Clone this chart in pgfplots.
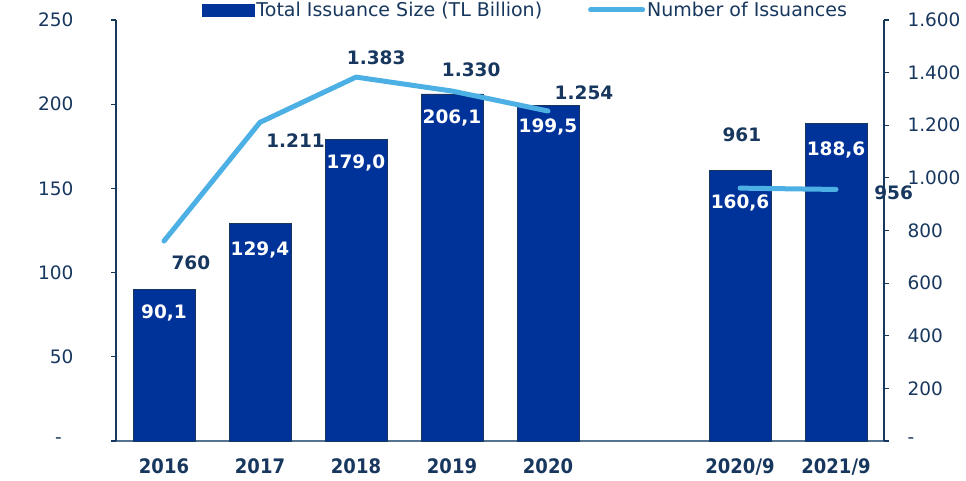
\documentclass[border=0pt]{standalone}
\usepackage{pgfplots}
\pgfplotsset{compat=1.18}
\usepackage{fontspec}
\setmainfont{DejaVu Sans}
\newfontfamily\condfont{DejaVu Sans Condensed}
\definecolor{barblue}{RGB}{0,51,153}
\definecolor{lineblue}{RGB}{77,176,228}
\definecolor{navy}{RGB}{23,55,94}
\definecolor{basecol}{RGB}{85,115,145}
\pgfplotstableread{
x y s
0 90.1 -24
1 129.4 -27
2 179.0 -23
3 206.1 -24
4 199.5 -22
6 160.6 -32
7 188.6 -27
}\bardata
\begin{document}
\begin{tikzpicture}[font=\fontsize{18.5bp}{22bp}\selectfont]
\begin{axis}[name=ax, scale only axis, width=768bp, height=421bp,
  xmin=-0.5, xmax=7.5, ymin=0, ymax=250,
  axis x line*=bottom, axis y line*=left,
  axis line style={-, navy, line width=1.2bp},
  x axis line style={basecol, line width=1.8bp},
  xtick={0,1,2,3,4,6,7},
  xticklabels={2016,2017,2018,2019,2020,2020/9,2021/9},
  xtick style={draw=none},
  xticklabel style={font=\fontsize{20bp}{24bp}\selectfont\condfont\bfseries, text=navy, yshift=-9bp},
  ytick={0,50,100,150,200,250},
  yticklabels={{-\hphantom{0}\hspace{3bp}},50,100,150,200,250},
  ytick style={navy, line width=1.2bp},
  tick align=outside, major tick length=5bp,
  yticklabel style={text=navy, anchor=east, xshift=-34bp},
  legend style={at={(0.533,1)}, anchor=center, yshift=10bp, draw=none, fill=none,
    legend columns=2, text=navy, font=\fontsize{19bp}{22bp}\selectfont,
    /tikz/every even column/.append style={column sep=44bp},
    legend cell align=left, inner sep=0pt},
  ybar, bar width=62bp,
  nodes near coords,
  visualization depends on={\thisrow{s} \as \myshift},
  every node near coord/.append style={font=\fontsize{18.5bp}{22bp}\selectfont\bfseries, text=white, anchor=center, yshift=\myshift bp,
    /pgf/number format/.cd, use comma, fixed, fixed zerofill, precision=1, assume math mode=true},
]
\addplot[fill=barblue, draw=navy, line width=0.8bp,
  legend image code/.code={\fill[barblue] (0bp,-6bp) rectangle (52bp,6bp);}]
  table[x=x, y=y, meta=y] {\bardata};
\addlegendentry{Total Issuance Size (TL Billion)}
\addlegendimage{legend image code/.code={\draw[lineblue, line width=5bp, line cap=round] (0bp,0bp) -- (52bp,0bp);}}
\addlegendentry{Number of Issuances}
\node[rotate=90, text=navy, font=\fontsize{17bp}{20bp}\selectfont] at ([xshift=-102bp]rel axis cs:0,0.893) {TL Billion};
\end{axis}
\begin{axis}[scale only axis, width=768bp, height=421bp,
  xmin=-0.5, xmax=7.5, ymin=0, ymax=1600, clip=false,
  axis y line*=right, hide x axis,
  axis line style={-, navy, line width=1.2bp},
  ytick={0,200,400,600,800,1000,1200,1400,1600},
  yticklabels={-,200,400,600,800,1.000,1.200,1.400,1.600},
  ytick style={navy, line width=1.2bp},
  tick align=outside, major tick length=5bp,
  yticklabel style={text=navy, anchor=west, xshift=15bp},
]
\addplot[lineblue, line width=5bp, line cap=round, line join=round]
  coordinates {(0,760) (1,1211) (2,1383) (3,1330) (4,1254)};
\addplot[lineblue, line width=5bp, line cap=round]
  coordinates {(6,961) (7,956)};
\begin{scope}[every node/.style={font=\fontsize{18.5bp}{22bp}\selectfont\bfseries, text=navy}]
\node at (axis cs:0.28,676) {760};
\node at (axis cs:1.37,1140) {1.211};
\node at (axis cs:2.21,1456) {1.383};
\node at (axis cs:3.20,1410) {1.330};
\node at (axis cs:4.375,1323) {1.254};
\node at (axis cs:6.02,1163) {961};
\node at (axis cs:7.60,943) {956};
\end{scope}
\end{axis}
\pgfresetboundingbox
\path ([shift={(-116bp,-39bp)}]ax.south west) rectangle ([shift={(82bp,20bp)}]ax.north east);
\end{tikzpicture}
\end{document}
